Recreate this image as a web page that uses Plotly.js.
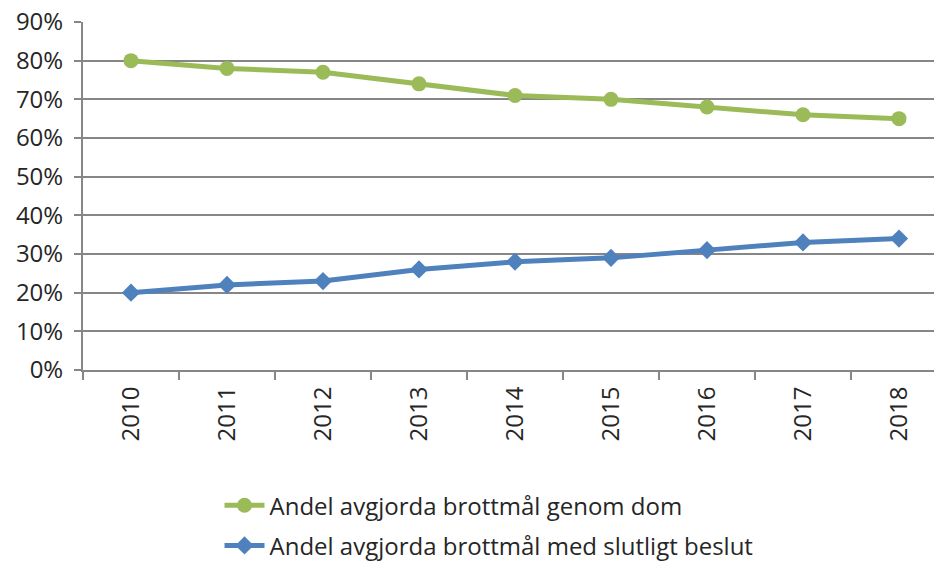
<!DOCTYPE html>
<html>
<head>
<meta charset="utf-8">
<script src="https://cdn.plot.ly/plotly-3.0.1.min.js"></script>
<style>html,body{margin:0;padding:0;overflow:hidden;background:#fff}</style>
</head>
<body>
<div id="chart" style="width:950px;height:563px"></div>
<script>
const years = ["2010","2011","2012","2013","2014","2015","2016","2017","2018"];
const genomDom = [0.80, 0.78, 0.77, 0.74, 0.71, 0.70, 0.68, 0.66, 0.65];
const slutligtBeslut = [0.20, 0.22, 0.23, 0.26, 0.28, 0.29, 0.31, 0.33, 0.34];
const seriesNames = ["Andel avgjorda brottmål genom dom", "Andel avgjorda brottmål med slutligt beslut"];

const font = "Open Sans, Liberation Sans, sans-serif";
const traces = [
  {x: years, y: genomDom, name: seriesNames[0], legendgroup: "a", type: "scatter", mode: "lines+markers",
   line: {color: "#9BBB59", width: 5}, marker: {symbol: "circle", size: 15, color: "#9BBB59"}},
  {x: years, y: slutligtBeslut, name: seriesNames[1], legendgroup: "b", type: "scatter", mode: "lines+markers",
   line: {color: "#4F81BD", width: 5}, marker: {symbol: "diamond", size: 14, color: "#4F81BD"}}
];
const layout = {
  width: 950, height: 563,
  margin: {l: 83, r: 3, t: 22, b: 193, autoexpand: false},
  paper_bgcolor: "#fff", plot_bgcolor: "#fff",
  font: {family: font, color: "#262626", size: 24},
  showlegend: true,
  legend: {x: 0.158, xanchor: "left", y: -0.325, yanchor: "top", orientation: "v",
           font: {size: 24, family: font, color: "#262626"}, tracegroupgap: 6, itemwidth: 40},
  xaxis: {type: "category", range: [-0.5, 8.5], showgrid: false, showline: true, linecolor: "#868686", linewidth: 2,
          ticks: "outside", tickson: "boundaries", ticklen: 8, tickcolor: "#868686", tickwidth: 2,
          tickangle: -90, tickfont: {size: 24, family: font}, ticklabelstandoff: 5, zeroline: false, automargin: false},
  yaxis: {range: [0, 0.9], dtick: 0.1, tickformat: ".0%", showgrid: true, gridcolor: "#868686", gridwidth: 2,
          showline: true, linecolor: "#868686", linewidth: 2, ticks: "outside", ticklen: 7, tickcolor: "#868686", tickwidth: 2,
          tickfont: {size: 24, family: font}, ticklabelstandoff: 6, zeroline: false, automargin: false}
};
Plotly.newPlot("chart", traces, layout, {displayModeBar: false, staticPlot: true});
</script>
</body>
</html>
